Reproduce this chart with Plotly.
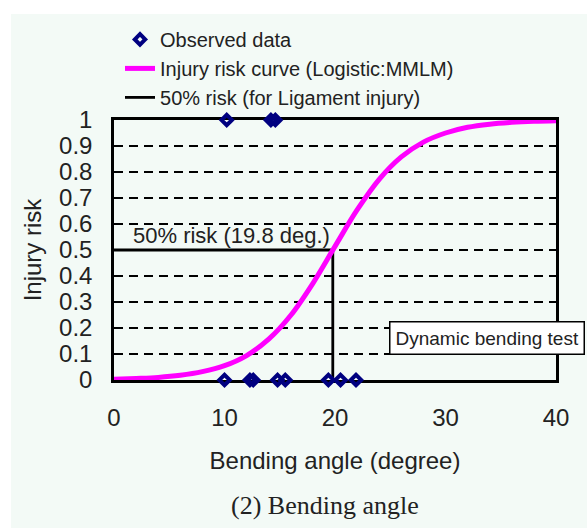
import plotly.graph_objects as go

# Observed data (bending angle in degrees, injury 0/1)
obs_angle = [10.2, 14.2, 14.6, 10.0, 12.3, 12.6, 14.8, 15.5, 19.4, 20.5, 21.9]
obs_injury = [1, 1, 1, 0, 0, 0, 0, 0, 0, 0, 0]

# Injury risk curve (Logistic: MMLM)
curve_angle = [0, 2, 4, 6, 8, 10, 12, 14, 16, 18, 20, 22, 24, 26, 28, 30, 32, 34, 36, 38, 40]
curve_risk = [0.003, 0.006, 0.010, 0.018, 0.032, 0.055, 0.094, 0.157, 0.249, 0.372, 0.514,
              0.654, 0.772, 0.858, 0.915, 0.950, 0.972, 0.984, 0.991, 0.995, 0.997]

# 50% risk line
risk50_angle = [0, 19.8, 19.8]
risk50_value = [0.5, 0.5, 0]

x_ticks = [0, 10, 20, 30, 40]
y_ticks = [0, 0.1, 0.2, 0.3, 0.4, 0.5, 0.6, 0.7, 0.8, 0.9, 1]
y_tick_labels = ["0", "0.1", "0.2", "0.3", "0.4", "0.5", "0.6", "0.7", "0.8", "0.9", "1"]

FONT = "Liberation Sans, Arial, sans-serif"
TXT = "#222222"
MINT = "#f3faf6"

fig = go.Figure()
fig.add_trace(go.Scatter(
    x=risk50_angle, y=risk50_value, mode="lines",
    line=dict(color="black", width=2.8),
    name="50% risk (for Ligament injury)", legendrank=3, cliponaxis=False))
fig.add_trace(go.Scatter(
    x=curve_angle, y=curve_risk, mode="lines", line_shape="spline",
    line=dict(color="#ff00ff", width=5),
    name="Injury risk curve (Logistic:MMLM)", legendrank=2, cliponaxis=False))
fig.add_trace(go.Scatter(
    x=obs_angle, y=obs_injury, mode="markers",
    marker=dict(symbol="diamond-open", size=8, color="#000080",
                line=dict(color="#000080", width=4)),
    name="Observed data", legendrank=1, cliponaxis=False))

fig.add_shape(type="rect", xref="paper", yref="paper",
              x0=-0.233, x1=1.2, y0=-1.0, y1=1.408,
              fillcolor=MINT, line=dict(width=0), layer="below")

fig.add_annotation(x=10.6, y=0.554, xref="x", yref="y", text="50% risk (19.8 deg.)",
                   showarrow=False, font=dict(family=FONT, size=22, color=TXT))
fig.add_annotation(x=33.8, y=0.162, xref="x", yref="y", text="Dynamic bending test",
                   showarrow=False, bgcolor="white", bordercolor="black", borderwidth=1.5,
                   borderpad=5, font=dict(family=FONT, size=19, color=TXT))
fig.add_annotation(x=0.477, y=-0.548, xref="paper", yref="paper", text="(2) Bending angle",
                   showarrow=False,
                   font=dict(family="Liberation Serif, Times New Roman, serif", size=26, color=TXT))

fig.update_layout(
    width=587, height=528,
    margin=dict(l=114, r=31, t=120, b=148),
    paper_bgcolor="white",
    plot_bgcolor="rgba(0,0,0,0)",
    font=dict(family=FONT, color=TXT),
    showlegend=True,
    legend=dict(x=0.0136, y=1.385, xanchor="left", yanchor="top",
                bgcolor="rgba(0,0,0,0)", font=dict(family=FONT, size=20, color=TXT),
                tracegroupgap=0, itemwidth=30),
    xaxis=dict(range=[0, 40], tickvals=x_ticks, showgrid=False, zeroline=False,
               showline=True, linecolor="black", linewidth=2.5, mirror=True,
               ticks="", ticklabelstandoff=14, layer="below traces",
               tickfont=dict(family=FONT, size=24, color=TXT),
               title=dict(text="Bending angle (degree)", standoff=23,
                          font=dict(family=FONT, size=24, color=TXT))),
    yaxis=dict(range=[0, 1], tickvals=y_ticks, ticktext=y_tick_labels,
               showgrid=True, gridcolor="black", gridwidth=1.5, griddash="9px,6px",
               zeroline=False, showline=True, linecolor="black", linewidth=2.5, mirror=True,
               ticks="", ticklabelstandoff=14, layer="below traces",
               tickfont=dict(family=FONT, size=24, color=TXT),
               title=dict(text="Injury risk", standoff=11,
                          font=dict(family=FONT, size=24, color=TXT))),
)

fig.write_html("out.html", config={"displayModeBar": False},
               post_script="document.body.style.margin='0';")
